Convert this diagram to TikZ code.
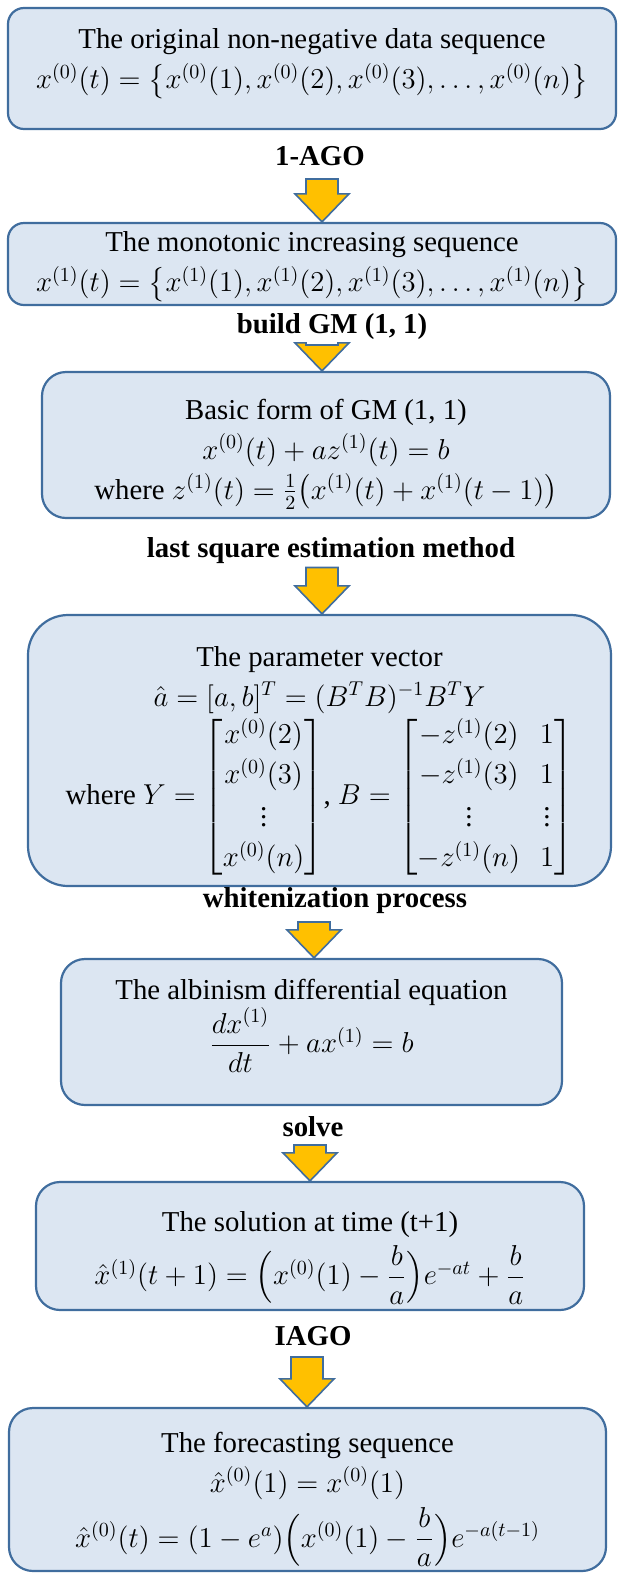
\documentclass[tikz,border=0pt]{standalone}
\usepackage{amsmath,amssymb}
\usepackage{fontspec}
\setmainfont{Liberation Serif}
\usepackage{tikz}
\usetikzlibrary{calc}
\definecolor{boxfill}{RGB}{220,230,242}
\definecolor{boxline}{RGB}{64,109,158}
\definecolor{arrowgold}{RGB}{255,192,0}

% block arrow from a start coordinate down to the top of a box
\newcommand{\blockarrow}[2]{%
  \filldraw[blockarr] let \p1=(#1), \p2=(#2.north) in
    (\x1-8pt,\y1) -- (\x1+8pt,\y1) -- (\x1+8pt,\y2+14pt) -- (\x1+13.5pt,\y2+14pt)
    -- (\x1,\y2) -- (\x1-13.5pt,\y2+14pt) -- (\x1-8pt,\y2+14pt) -- cycle;}

\begin{document}
\begin{tikzpicture}[
  x=0.5pt, y=0.5pt,
  stepbox/.style={draw=boxline, fill=boxfill, line width=1.1pt, rounded corners=8pt, inner sep=0pt},
  boxtxt/.style={align=center, font=\fontsize{14.4}{20}\selectfont, inner sep=0pt},
  lbl/.style={font=\fontsize{14.4}{17}\selectfont\bfseries},
  blockarr/.style={fill=arrowgold, draw=boxline, line width=0.8pt, line join=miter}
]
\useasboundingbox (0,0) rectangle (618,-1575);

% boxes
\node[stepbox, minimum width=304pt, minimum height=60.5pt] (B1) at (312,-68.5) {};
\node[stepbox, minimum width=304pt, minimum height=41pt] (B2) at (312,-264) {};
\node[stepbox, rounded corners=12pt, minimum width=284pt, minimum height=73pt] (B3) at (326,-445) {};
\node[stepbox, rounded corners=20pt, minimum width=291.5pt, minimum height=135.5pt] (B4) at (319.5,-750.5) {};
\node[stepbox, rounded corners=12pt, minimum width=250.5pt, minimum height=73pt] (B5) at (311.5,-1032) {};
\node[stepbox, rounded corners=12pt, minimum width=274pt, minimum height=64pt] (B6) at (310,-1246) {};
\node[stepbox, rounded corners=12pt, minimum width=298.5pt, minimum height=81.5pt] (B7) at (307.5,-1489.5) {};

% box contents
\node[boxtxt] (T1) at ([yshift=2.5pt]B1.center)
  {The original non-negative data sequence\\
   $x^{(0)}(t)=\left\{x^{(0)}(1),x^{(0)}(2),x^{(0)}(3),\dots,x^{(0)}(n)\right\}$};
\node[boxtxt] (T2) at ([yshift=-1.5pt]B2.center)
  {The monotonic increasing sequence\\
   $x^{(1)}(t)=\left\{x^{(1)}(1),x^{(1)}(2),x^{(1)}(3),\dots,x^{(1)}(n)\right\}$};
\node[boxtxt] (T3) at ([yshift=-4.5pt]B3.center)
  {Basic form of GM (1, 1)\\
   $x^{(0)}(t)+az^{(1)}(t)=b$\\
   where $z^{(1)}(t)=\frac{1}{2}\bigl(x^{(1)}(t)+x^{(1)}(t-1)\bigr)$};
\node[boxtxt] (T4) at ([yshift=-6pt]B4.center)
  {The parameter vector\\
   $\hat{a}=[a,b]^T=(B^TB)^{-1}B^TY$\\
   where $Y=\begin{bmatrix}x^{(0)}(2)\\ x^{(0)}(3)\\ \vdots\\ x^{(0)}(n)\end{bmatrix}$,
   $B=\begin{bmatrix}-z^{(1)}(2) & 1\\ -z^{(1)}(3) & 1\\ \vdots & \vdots\\ -z^{(1)}(n) & 1\end{bmatrix}$};
\node[boxtxt] (T5) at ([yshift=3pt]B5.center)
  {The albinism differential equation\\
   $\dfrac{dx^{(1)}}{dt}+ax^{(1)}=b$};
\node[boxtxt] (T6) at ([yshift=-6pt]B6.center)
  {The solution at time (t+1)\\[3pt]
   $\hat{x}^{(1)}(t+1)=\Bigl(x^{(0)}(1)-\dfrac{b}{a}\Bigr)e^{-at}+\dfrac{b}{a}$};
\node[boxtxt] (T7) at ([yshift=-5pt]B7.center)
  {The forecasting sequence\\
   $\hat{x}^{(0)}(1)=x^{(0)}(1)$\\[3pt]
   $\hat{x}^{(0)}(t)=(1-e^{a})\Bigl(x^{(0)}(1)-\dfrac{b}{a}\Bigr)e^{-a(t-1)}$};

% step labels
\node[lbl] (L1) at (320,-156) {1-AGO};
\node[lbl] (L2) at (332,-326.5) {build GM (1, 1)};
\node[lbl] (L3) at (331,-550.5) {last square estimation method};
\node[lbl] (L4) at (335,-901) {whitenization process};
\node[lbl] (L5) at (313,-1127) {solve};
\node[lbl] (L6) at (313,-1336) {IAGO};

\coordinate (A1) at (322,-179);
\coordinate (A2) at (322,-345);
\coordinate (A3) at (322,-567.5);
\coordinate (A4) at (314,-922);
\coordinate (A5) at (310,-1145);
\coordinate (A6) at (307,-1357);

\blockarrow{A1}{B2}
\blockarrow{A2}{B3}
\blockarrow{A3}{B4}
\blockarrow{A4}{B5}
\blockarrow{A5}{B6}
\blockarrow{A6}{B7}

\end{tikzpicture}
\end{document}
